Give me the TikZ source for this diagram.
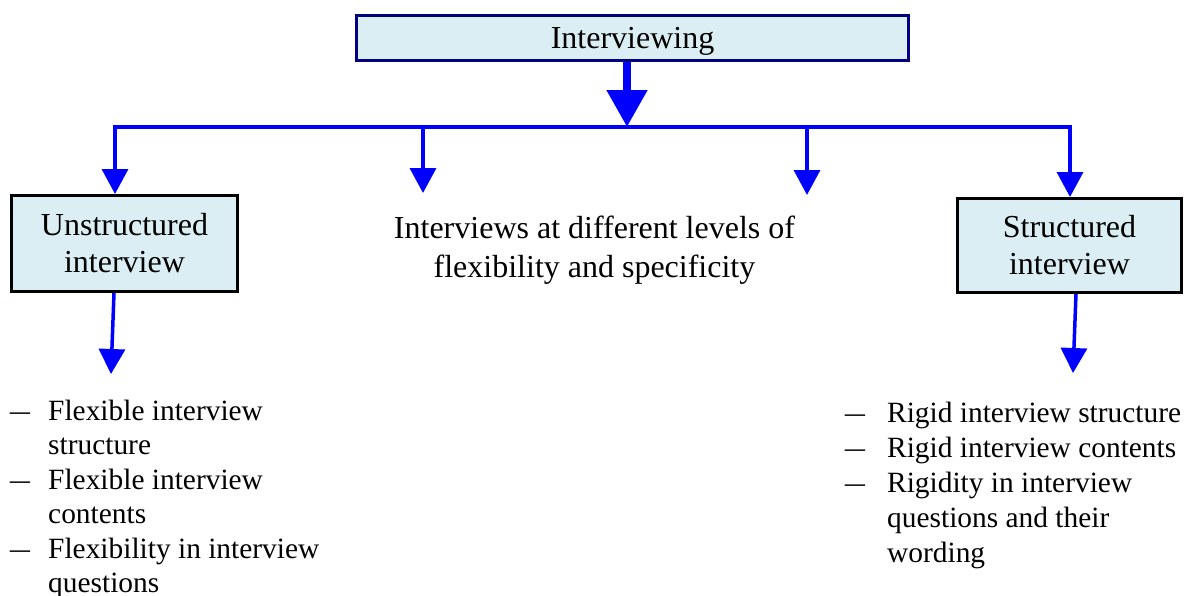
\documentclass[tikz,border=0pt]{standalone}
\usepackage{fontspec}
\setmainfont{LiberationSerif}[Extension=.ttf, UprightFont=*-Regular, BoldFont=*-Bold, ItalicFont=*-Italic, BoldItalicFont=*-BoldItalic]
\usetikzlibrary{arrows.meta}
\definecolor{boxfill}{HTML}{DAEEF3}
\definecolor{navyline}{HTML}{000080}
\definecolor{flowblue}{HTML}{0000FF}
\newcommand\listdash[1]{\makebox[#1][l]{\scalebox{1.35}[1]{–}}}

\begin{document}
\begin{tikzpicture}[x=1pt,y=-1pt,
  txt/.style={font=\fontsize{32}{37}\selectfont, inner sep=0pt},
  box/.style={txt, draw=black, line width=3pt, fill=boxfill, align=center},
  bus/.style={draw=flowblue, line width=3.5pt},
  branch/.style={bus, -{Triangle[width=26pt,length=25pt]}},
  trunk/.style={draw=flowblue, line width=8pt, -{Triangle[width=39pt,length=37pt]}},
]
\useasboundingbox (0,0) rectangle (1189,595);

% boxes
\node[box, draw=navyline, minimum width=552pt, minimum height=45pt, text depth=0pt]
  (top) at (632.5,38) {Interviewing};
\node[box, minimum width=226pt, minimum height=96pt] (unstr) at (124.5,243.5)
  {Unstructured\\interview};
\node[box, minimum width=224pt, minimum height=94pt] (str) at (1069.5,245.5)
  {Structured\\interview};
\node[txt, align=center, font=\fontsize{32}{39}\selectfont] (mid) at (594.5,250)
  {Interviews at different levels of\\flexibility and specificity};

% bullet lists
\node[txt, anchor=base west, font=\fontsize{29.4}{34.5}\selectfont] (leftlist) at (10,420)
  {\begin{tabular}[t]{@{}l@{}l@{}}
   \listdash{38pt} & Flexible interview\\
                   & structure\\
   \listdash{38pt} & Flexible interview\\
                   & contents\\
   \listdash{38pt} & Flexibility in interview\\
                   & questions
   \end{tabular}};
\node[txt, anchor=base west, font=\fontsize{29.4}{35}\selectfont] (rightlist) at (845,422)
  {\begin{tabular}[t]{@{}l@{}l@{}}
   \listdash{42pt} & Rigid interview structure\\
   \listdash{42pt} & Rigid interview contents\\
   \listdash{42pt} & Rigidity in interview\\
                   & questions and their\\
                   & wording
   \end{tabular}};

% bus points
\coordinate (busL) at (115,127);
\coordinate (busM) at (627,127);
\coordinate (busR) at (1070,127);
\coordinate (m1) at (423,127);
\coordinate (m1tip) at (423,193);
\coordinate (m2) at (807,127);
\coordinate (m2tip) at (807,195);
\coordinate (ltip) at (111,374);
\coordinate (rtip) at (1073,373);

% connectors
\draw[trunk] (busM |- top.south) -- (busM);
\draw[bus, line cap=rect] (busL) -- (busR);
\draw[branch] (busL) -- (busL |- unstr.north);
\draw[branch] (m1) -- (m1tip);
\draw[branch] (m2) -- (m2tip);
\draw[branch] (busR) -- (busR |- str.north);
\draw[branch] ([xshift=-10.5pt]unstr.south) -- (ltip);
\draw[branch] ([xshift=6.5pt]str.south) -- (rtip);
\end{tikzpicture}
\end{document}
